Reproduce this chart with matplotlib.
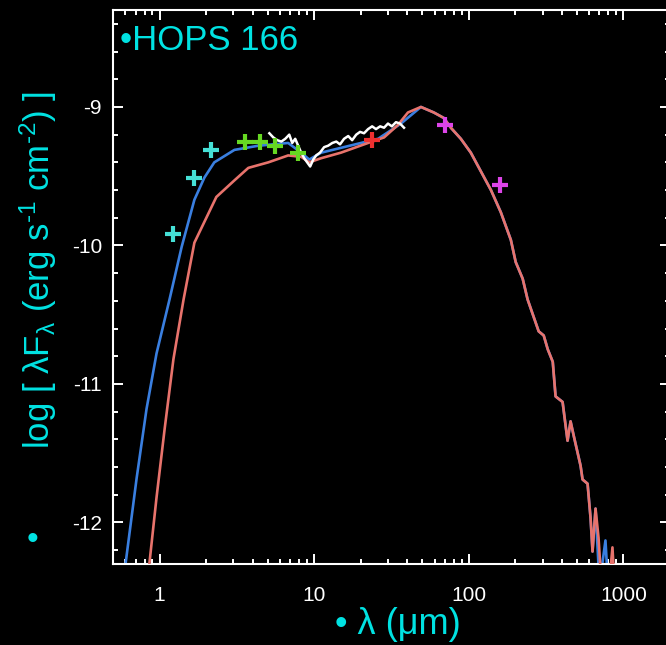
import numpy as np
import matplotlib
matplotlib.use("Agg")
import matplotlib.pyplot as plt

plt.rcParams['font.family'] = ['Liberation Sans', 'DejaVu Sans']
plt.rcParams['mathtext.fontset'] = 'custom'
plt.rcParams['mathtext.rm'] = 'Liberation Sans'
plt.rcParams['mathtext.it'] = 'Liberation Sans'

# model 1 (blue), rising part
blue_wl = [0.59, 0.604, 0.711, 0.824, 0.956, 1.16, 1.39, 1.68, 1.95, 2.26, 3.05,
           4.35, 6.79, 8.24, 9.29, 11.1, 20.1, 25.9, 36.4]
blue_lf = [-12.4, -12.29, -11.68, -11.18, -10.78, -10.39, -10.01, -9.67, -9.51, -9.40, -9.31,
           -9.28, -9.26, -9.33, -9.38, -9.33, -9.26, -9.23, -9.12]

# model 2 (red), rising part
red_wl = [0.845, 0.861, 0.956, 1.08, 1.23, 1.43, 1.68, 2.33, 3.05, 3.75, 5.05,
          6.79, 8.24, 9.29, 11.1, 14.9, 22.3, 28.3, 34.8, 40.4]
red_lf = [-12.4, -12.29, -11.82, -11.32, -10.82, -10.39, -9.98, -9.65, -9.53, -9.44, -9.40,
          -9.35, -9.36, -9.40, -9.37, -9.33, -9.26, -9.22, -9.13, -9.04]

# shared far-IR / submm tail
tail_wl = [49, 59.4, 69, 76.5, 88.8, 103, 119, 139, 161, 187, 201, 223, 240, 283, 305,
           324, 349, 364, 404, 435, 455, 476, 528, 544, 586, 613, 631, 660]
tail_lf = [-9.00, -9.04, -9.08, -9.15, -9.23, -9.33, -9.46, -9.60, -9.76, -9.96, -10.12,
           -10.24, -10.39, -10.62, -10.65, -10.75, -10.84, -11.09, -11.13, -11.41, -11.27,
           -11.37, -11.59, -11.69, -11.72, -11.97, -12.21, -11.90]
red_end_wl = [690, 721, 800, 849, 880]
red_end_lf = [-12.11, -12.45, -12.5, -12.18, -12.5]
blue_end_wl = [700, 765, 800]
blue_end_lf = [-12.45, -12.13, -12.5]

# IRS spectrum (white)
irs_wl = [5.13, 5.44, 5.77, 6.13, 6.50, 6.90, 7.21, 7.54, 7.88, 8.24, 8.62, 9.01, 9.42,
          9.86, 10.3, 10.9, 11.6, 12.3, 13.1, 13.9, 14.7, 15.6, 16.6, 17.6, 18.7, 19.8,
          21.0, 22.3, 23.7, 25.1, 26.7, 28.3, 30.0, 31.8, 33.8, 35.9, 38.1]
irs_lf = [-9.19, -9.22, -9.24, -9.25, -9.23, -9.20, -9.26, -9.23, -9.28, -9.33, -9.37,
          -9.40, -9.43, -9.38, -9.35, -9.33, -9.29, -9.28, -9.26, -9.25, -9.27, -9.23,
          -9.21, -9.24, -9.20, -9.18, -9.19, -9.16, -9.14, -9.16, -9.14, -9.15, -9.12,
          -9.14, -9.11, -9.12, -9.15]

# photometry
jhk_wl = [1.23, 1.66, 2.16]
jhk_lf = [-9.92, -9.51, -9.31]
irac_wl = [3.55, 4.49, 5.6, 7.9]
irac_lf = [-9.25, -9.25, -9.28, -9.33]
mips_wl = [23.5]
mips_lf = [-9.24]
pacs_wl = [70, 160]
pacs_lf = [-9.13, -9.56]

cyan = '#00e2e2'

fig = plt.figure(figsize=(6.66, 6.45), dpi=100, facecolor='black')
ax = fig.add_axes([113 / 666, 1 - 564 / 645, (670 - 113) / 666, (564 - 10) / 645])
ax.set_facecolor('black')

ax.plot(blue_wl + tail_wl + blue_end_wl, blue_lf + tail_lf + blue_end_lf,
        color='#3a7fe0', lw=1.9, zorder=2)
ax.plot(red_wl + tail_wl + red_end_wl, red_lf + tail_lf + red_end_lf,
        color='#e8736c', lw=1.9, zorder=3)
ax.plot(irs_wl, irs_lf, color='white', lw=1.8, zorder=4)

mk = dict(marker='+', ls='none', ms=12, mew=3, zorder=5)
ax.plot(jhk_wl, jhk_lf, color='#45e0d6', **mk)
ax.plot(irac_wl, irac_lf, color='#66d822', **mk)
ax.plot(mips_wl, mips_lf, color='#ee3030', **mk)
ax.plot(pacs_wl, pacs_lf, color='#dd44e8', **mk)

ax.set_xscale('log')
ax.set_xlim(0.5, 2000)
ax.set_ylim(-12.3, -8.3)
ax.set_yticks([-12, -11, -10, -9])
ax.set_yticks(np.arange(-12.2, -8.3, 0.2), minor=True)
ax.set_xticks([1, 10, 100, 1000])
ax.set_xticklabels(['1', '10', '100', '1000'])
ax.set_yticklabels(['-12', '-11', '-10', '-9'])

for s in ax.spines.values():
    s.set_color('white')
    s.set_linewidth(1.5)
ax.tick_params(which='both', direction='in', top=True, right=True, colors='white',
               width=1.4, labelsize=15)
ax.tick_params(axis='x', which='major', length=7, pad=16)
ax.tick_params(axis='x', which='minor', length=3.5)
ax.tick_params(axis='y', which='major', length=7.5, pad=8)
ax.tick_params(axis='y', which='minor', length=3.5)

fig.text(120 / 666, 1 - 40 / 645, '\u2022HOPS 166', color=cyan, fontsize=25,
         ha='left', va='center')
fig.text(38 / 666, 1 - 270 / 645,
         'log [ $\\mathrm{\u03bb}$F$_{\\mathrm{\u03bb}}$ (erg s$^{\u20101}$ cm$^{\u20102}$) ]',
         color=cyan, fontsize=25, rotation=90, ha='center', va='center')
fig.text(32 / 666, 1 - 541 / 645, '\u2022', color=cyan, fontsize=24, ha='center', va='center')
fig.text(398 / 666, 1 - 625 / 645, '\u2022 \u03bb (\u03bcm)', color=cyan, fontsize=26,
         ha='center', va='center')

fig.savefig('out.png', dpi=100, facecolor='black')
